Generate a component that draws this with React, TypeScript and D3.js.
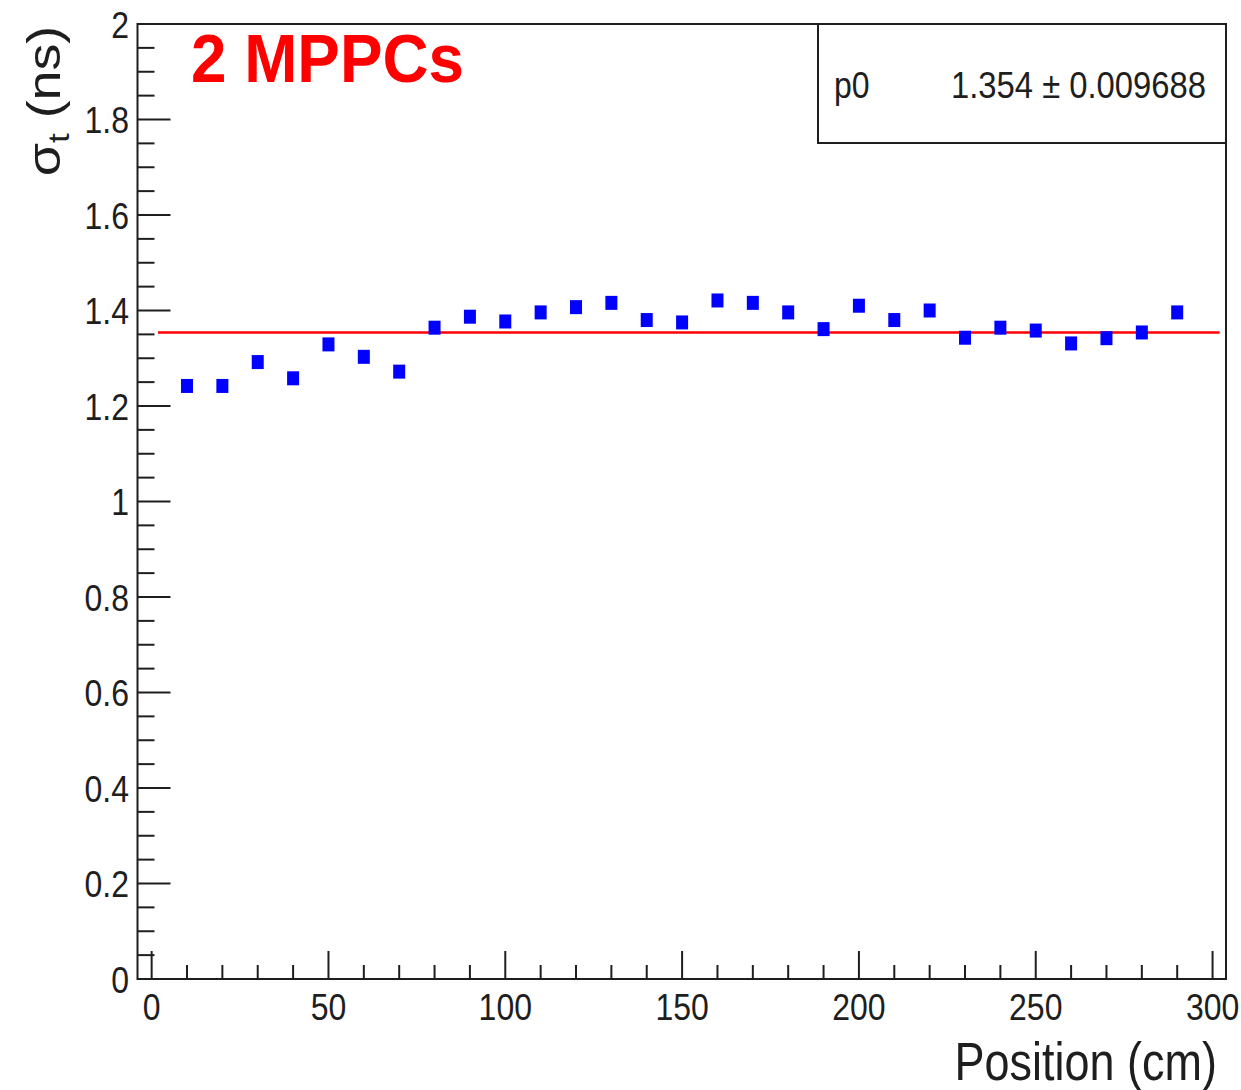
import React from "react";
import * as d3 from "d3";

const positions = [10, 20, 30, 40, 50, 60, 70, 80, 90, 100, 110, 120, 130, 140, 150, 160, 170, 180, 190, 200, 210, 220, 230, 240, 250, 260, 270, 280, 290];
const sigmaT = [1.242, 1.242, 1.292, 1.258, 1.329, 1.303, 1.272, 1.364, 1.387, 1.377, 1.396, 1.407, 1.416, 1.380, 1.375, 1.421, 1.416, 1.396, 1.361, 1.410, 1.380, 1.400, 1.343, 1.364, 1.358, 1.331, 1.342, 1.354, 1.396];
const fitValue = 1.354;
const fitRange = [1.8, 302];
const xMajorTicks = [0, 50, 100, 150, 200, 250, 300];
const xMajorLabels = ["0", "50", "100", "150", "200", "250", "300"];
const yMajorTicks = [0, 0.2, 0.4, 0.6, 0.8, 1, 1.2, 1.4, 1.6, 1.8, 2];
const yMajorLabels = ["0", "0.2", "0.4", "0.6", "0.8", "1", "1.2", "1.4", "1.6", "1.8", "2"];
const statName = "p0";
const statValue = "1.354 \u00b1 0.009688";
const title = "2 MPPCs";
const xTitle = "Position (cm)";

const FONT = "'Liberation Sans', Arial, Helvetica, sans-serif";
const INK = "#1e1e1e";

export default function App() {
  const left = 137.5, right = 1226, top = 24, bottom = 979;
  const x = d3.scaleLinear().domain([-4, 303.8]).range([left, right]);
  const y = d3.scaleLinear().domain([0, 2]).range([bottom, top]);

  const xMinor = d3.range(0, 301, 10).filter((v) => v % 50 !== 0);
  const yMinor = d3.range(0, 2.0001, 0.05).filter((v) => Math.abs(v * 5 - Math.round(v * 5)) > 1e-6);

  const line = d3.line<number>().x((d) => x(d)).y(() => y(fitValue));

  const mw = 12, mh = 14;

  return (
    <svg width={1241} height={1090} style={{ position: "absolute", left: 0, top: 0, background: "#fff" }} fontFamily={FONT}>
      <rect x={0} y={0} width={1241} height={1090} fill="#fff" />
      {yMajorTicks.map((v) => (
        <line key={"ym" + v} x1={left} x2={left + 33} y1={y(v)} y2={y(v)} stroke={INK} strokeWidth={2} />
      ))}
      {yMinor.map((v) => (
        <line key={"yn" + v} x1={left} x2={left + 17} y1={y(v)} y2={y(v)} stroke={INK} strokeWidth={2} />
      ))}
      {xMajorTicks.map((v) => (
        <line key={"xm" + v} x1={x(v)} x2={x(v)} y1={bottom} y2={bottom - 28} stroke={INK} strokeWidth={2} />
      ))}
      {xMinor.map((v) => (
        <line key={"xn" + v} x1={x(v)} x2={x(v)} y1={bottom} y2={bottom - 14} stroke={INK} strokeWidth={2} />
      ))}
      <rect x={left} y={top} width={right - left} height={bottom - top} fill="none" stroke={INK} strokeWidth={2} />
      {yMajorTicks.map((v, i) => (
        <g key={"yl" + v} transform={`translate(129, ${y(v)}) scale(1, 1.15)`}>
          <text x={0} y={12} textAnchor="end" fontSize={32} fill={INK}>{yMajorLabels[i]}</text>
        </g>
      ))}
      {xMajorTicks.map((v, i) => (
        <g key={"xl" + v} transform={`translate(${x(v)}, 1020) scale(1, 1.15)`}>
          <text x={0} y={0} textAnchor="middle" fontSize={32} fill={INK}>{xMajorLabels[i]}</text>
        </g>
      ))}
      <g transform="translate(1217, 1080) scale(1, 1.18)">
        <text x={0} y={0} textAnchor="end" fontSize={45} fill={INK}>{xTitle}</text>
      </g>
      <g transform="translate(60, 101) scale(1, 1.17) rotate(-90)">
        <text x={0} y={0} textAnchor="middle" fontSize={46} fill={INK}>
          {"\u03c3"}
          <tspan fontSize={30} dy={9}>t</tspan>
          <tspan dy={-9}>{" (ns)"}</tspan>
        </text>
      </g>
      <path d={line(fitRange) || ""} stroke="#ff0000" strokeWidth={2.6} fill="none" />
      {positions.map((p, i) => (
        <rect key={"pt" + p} x={x(p) - mw / 2} y={y(sigmaT[i]) - mh / 2} width={mw} height={mh} fill="#0000ff" />
      ))}
      <rect x={818} y={top} width={right - 818} height={143 - top} fill="#fff" stroke={INK} strokeWidth={2} />
      <g transform="translate(834, 98) scale(1, 1.13)">
        <text x={0} y={0} fontSize={32} fill={INK}>{statName}</text>
      </g>
      <g transform="translate(1206, 98) scale(1, 1.13)">
        <text x={0} y={0} textAnchor="end" fontSize={32.8} fill={INK}>{statValue}</text>
      </g>
      <g transform="translate(191, 82) scale(1, 1.08)">
        <text x={0} y={0} fontSize={63.8} fontWeight="bold" fill="#ff0000">{title}</text>
      </g>
    </svg>
  );
}
